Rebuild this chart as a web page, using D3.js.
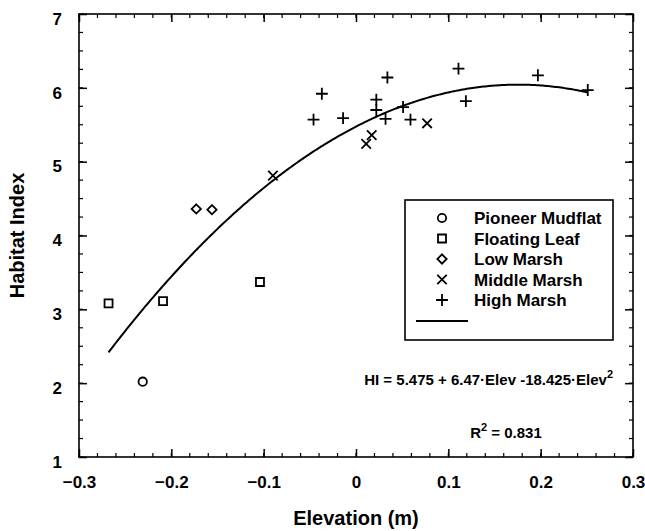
<!DOCTYPE html>
<html>
<head>
<meta charset="utf-8">
<script src="https://cdn.jsdelivr.net/npm/d3@7"></script>
<style>
  body { margin: 0; background: #fff; }
  text { font-family: "Liberation Sans", Arial, sans-serif; font-weight: bold; fill: #000; }
</style>
</head>
<body>
<svg id="chart" width="645" height="531"></svg>
<script>
// data
const pioneerX = [-0.231]
const pioneerY = [2.02]
const floatingX = [-0.268, -0.209, -0.104]
const floatingY = [3.08, 3.11, 3.37]
const lowX = [-0.173, -0.156]
const lowY = [4.36, 4.35]
const middleX = [-0.090, 0.011, 0.017, 0.077]
const middleY = [4.81, 5.24, 5.36, 5.52]
const highX = [-0.046, -0.037, -0.014, 0.022, 0.022, 0.032, 0.034, 0.051, 0.059, 0.111, 0.119, 0.197, 0.251]
const highY = [5.57, 5.92, 5.59, 5.84, 5.70, 5.58, 6.14, 5.74, 5.57, 6.26, 5.82, 6.17, 5.97]

// fitted quadratic HI = a + b*Elev + c*Elev^2 and the elevation range it covers
const fitCoef = [5.475, 6.47, -18.425]
const fitRange = [-0.268, 0.251]

const xTicks = [-0.3, -0.2, -0.1, 0, 0.1, 0.2, 0.3]
const yTicks = [1, 2, 3, 4, 5, 6, 7]
const legendLabels = ['Pioneer Mudflat', 'Floating Leaf', 'Low Marsh', 'Middle Marsh', 'High Marsh']

const margin = {left: 79, right: 12, top: 14, bottom: 74}
const width = 645, height = 531

const svg = d3.select('#chart')

const x = d3.scaleLinear().domain([-0.3, 0.3]).range([margin.left, width - margin.right])
const y = d3.scaleLinear().domain([1, 7]).range([height - margin.bottom, margin.top])

const majorLen = 8
const minorLen = 4

// axes, ticks point inward on all four sides
const xMinor = d3.range(-0.3, 0.3001, 0.02)
const yMinor = d3.range(1, 7.001, 0.25)

svg.append('g')
  .attr('transform', `translate(0,${y(1)})`)
  .call(d3.axisBottom(x).tickValues(xTicks).tickSize(-majorLen).tickPadding(majorLen + 11).tickFormat(d => d === 0 ? '0' : d3.format('.1f')(d)))
  .call(g => g.selectAll('text').attr('font-size', 17))
  .call(g => g.select('.domain').remove())

svg.append('g')
  .attr('transform', `translate(${x(-0.3)},0)`)
  .call(d3.axisLeft(y).tickValues(yTicks).tickSize(-majorLen).tickPadding(majorLen + 9).tickFormat(d3.format('d')))
  .call(g => g.selectAll('text').attr('font-size', 17).attr('dy', '0.6em'))
  .call(g => g.select('.domain').remove())

svg.append('g')
  .attr('transform', `translate(0,${y(7)})`)
  .call(d3.axisTop(x).tickValues(xTicks).tickSize(-majorLen).tickFormat(''))
  .call(g => g.select('.domain').remove())

svg.append('g')
  .attr('transform', `translate(${x(0.3)},0)`)
  .call(d3.axisRight(y).tickValues(yTicks).tickSize(-majorLen).tickFormat(''))
  .call(g => g.select('.domain').remove())

// minor ticks
const minorG = svg.append('g').attr('stroke', '#000').attr('stroke-width', 1.2)
minorG.selectAll('.mxb').data(xMinor).join('line')
  .attr('x1', d => x(d)).attr('x2', d => x(d))
  .attr('y1', y(1)).attr('y2', y(1) - minorLen)
minorG.selectAll('.mxt').data(xMinor).join('line')
  .attr('class', 'mxt')
  .attr('x1', d => x(d)).attr('x2', d => x(d))
  .attr('y1', y(7)).attr('y2', y(7) + minorLen)
minorG.selectAll('.myl').data(yMinor).join('line')
  .attr('class', 'myl')
  .attr('x1', x(-0.3)).attr('x2', x(-0.3) + minorLen)
  .attr('y1', d => y(d)).attr('y2', d => y(d))
minorG.selectAll('.myr').data(yMinor).join('line')
  .attr('class', 'myr')
  .attr('x1', x(0.3)).attr('x2', x(0.3) - minorLen)
  .attr('y1', d => y(d)).attr('y2', d => y(d))

svg.selectAll('.tick line').attr('stroke-width', 1.5)

// frame
svg.append('rect')
  .attr('x', x(-0.3)).attr('y', y(7))
  .attr('width', x(0.3) - x(-0.3)).attr('height', y(1) - y(7))
  .attr('fill', 'none').attr('stroke', '#000').attr('stroke-width', 1.6)

// axis titles
svg.append('text')
  .attr('x', x(0)).attr('y', 525)
  .attr('text-anchor', 'middle').attr('font-size', 20)
  .text('Elevation (m)')

svg.append('text')
  .attr('transform', `translate(24,${y(4)}) rotate(-90)`)
  .attr('text-anchor', 'middle').attr('font-size', 20)
  .text('Habitat Index')

// fitted curve
const fit = v => fitCoef[0] + fitCoef[1] * v + fitCoef[2] * v * v
const curveX = d3.range(fitRange[0], fitRange[1], 0.002).concat([fitRange[1]])
svg.append('path')
  .datum(curveX)
  .attr('fill', 'none').attr('stroke', '#000').attr('stroke-width', 2)
  .attr('d', d3.line().x(d => x(d)).y(d => y(fit(d))))

// marker symbols
const sym = {
  circle: d3.symbol().type(d3.symbolCircle).size(55),
  square: d3.symbol().type(d3.symbolSquare).size(64),
  diamond: d3.symbol().type(d3.symbolDiamond2).size(55),
  cross: d3.symbol().type(d3.symbolTimes).size(60),
  plus: d3.symbol().type(d3.symbolPlus).size(48)
}
const groups = [
  {xs: pioneerX, ys: pioneerY, s: 'circle'},
  {xs: floatingX, ys: floatingY, s: 'square'},
  {xs: lowX, ys: lowY, s: 'diamond'},
  {xs: middleX, ys: middleY, s: 'cross'},
  {xs: highX, ys: highY, s: 'plus'}
]

function drawMarker(sel, s) {
  sel.attr('d', sym[s]())
    .attr('fill', 'none')
    .attr('stroke', '#000')
    .attr('stroke-width', 1.8)
}

groups.forEach(g => {
  svg.append('g').selectAll('path')
    .data(g.xs.map((v, i) => [v, g.ys[i]]))
    .join('path')
    .attr('transform', d => `translate(${x(d[0])},${y(d[1])})`)
    .call(drawMarker, g.s)
})

// legend
const lg = svg.append('g').attr('transform', 'translate(405,200)')
lg.append('rect')
  .attr('width', 208).attr('height', 140)
  .attr('fill', '#fff').attr('stroke', '#000').attr('stroke-width', 1.6)

groups.forEach((g, i) => {
  const row = lg.append('g').attr('transform', `translate(0,${18 + i * 20.5})`)
  row.append('path').attr('transform', 'translate(37,0)').call(drawMarker, g.s)
  row.append('text').attr('x', 69).attr('dy', '0.36em').attr('font-size', 17).text(legendLabels[i])
})
lg.append('line')
  .attr('x1', 11).attr('x2', 63).attr('y1', 121).attr('y2', 121)
  .attr('stroke', '#000').attr('stroke-width', 2)

// equation and r squared
const eq = svg.append('text')
  .attr('x', 613).attr('y', 385)
  .attr('text-anchor', 'end').attr('font-size', 15)
eq.append('tspan').text('HI = 5.475 + 6.47·Elev -18.425·Elev')
eq.append('tspan').attr('font-size', 11).attr('dy', -7).text('2')

const r2 = svg.append('text')
  .attr('x', 506).attr('y', 438)
  .attr('text-anchor', 'middle').attr('font-size', 15)
r2.append('tspan').text('R')
r2.append('tspan').attr('font-size', 11).attr('dy', -7).text('2')
r2.append('tspan').attr('dy', 7).text(' = 0.831')
</script>
</body>
</html>
